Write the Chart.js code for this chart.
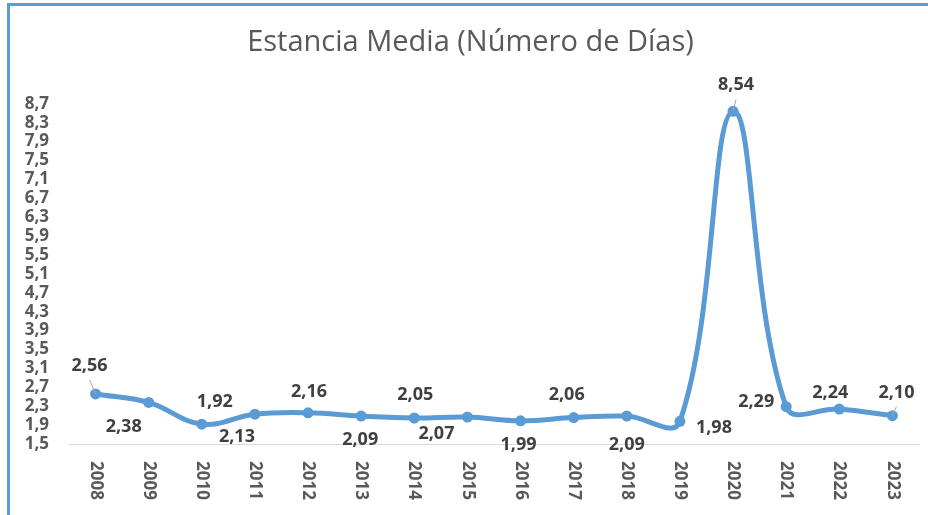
<!DOCTYPE html>
<html>
<head>
<meta charset="utf-8">
<script src="https://cdn.jsdelivr.net/npm/chart.js@4/dist/chart.umd.min.js"></script>
<style>
    body { margin: 0; background: #fff; }
    #wrap { width: 928px; height: 515px; position: relative; }
</style>
</head>
<body>
<div id="wrap"><canvas id="grafico"></canvas></div>
<script>
// Dados do gráfico
var anos = ['2008', '2009', '2010', '2011', '2012', '2013', '2014', '2015',
            '2016', '2017', '2018', '2019', '2020', '2021', '2022', '2023'];
var estanciaMedia = [2.56, 2.38, 1.92, 2.13, 2.16, 2.09, 2.05, 2.07,
                     1.99, 2.06, 2.09, 1.98, 8.54, 2.29, 2.24, 2.10];
var ejeMin = 1.5;
var ejeMax = 8.7;
var ejePaso = 0.4;

// Deslocamento dos rótulos em relação ao ponto (estilo, não dados)
var rotuloDesloc = [[-6, -28], [-25, 24], [13, -22], [-18, 23], [1, -21], [-1, 24],
                    [1, -23], [-31, 17], [-2, 24], [-7, -23], [0, 29], [34, 7],
                    [3, -26], [-30, -5], [-9, -16], [4, -23]];
var rotuloLinha = [0, 12, 15];

var azul = '#5B9BD5';
var cinza = '#595959';

function formatoComa(v) {
    return v.toFixed(2).replace('.', ',');
}

//Plugin para rótulos de dados, eixo x girado e borda
var pluginExtras = {
    id: 'extras',
    afterDatasetsDraw: function(chart) {
        var ctx = chart.ctx;
        var meta = chart.getDatasetMeta(0);
        ctx.save();
        ctx.font = 'bold 18px "Open Sans"';
        ctx.fillStyle = '#404040';
        ctx.textAlign = 'center';
        ctx.textBaseline = 'middle';
        meta.data.forEach(function(pt, i) {
            var lx = pt.x + rotuloDesloc[i][0];
            var ly = pt.y + rotuloDesloc[i][1];
            ctx.fillText(formatoComa(estanciaMedia[i]), lx, ly);
            if (rotuloLinha.indexOf(i) >= 0) {
                ctx.strokeStyle = '#A6A6A6';
                ctx.lineWidth = 1;
                ctx.beginPath();
                ctx.moveTo(lx, ly + 14);
                ctx.lineTo(pt.x, pt.y);
                ctx.stroke();
            }
        });

        // rótulos do eixo x, girados no sentido horário
        var xs = chart.scales.x;
        ctx.font = 'bold 17px "Open Sans"';
        ctx.fillStyle = cinza;
        ctx.textAlign = 'left';
        xs.ticks.forEach(function(t, i) {
            var x = xs.getPixelForTick(i);
            ctx.save();
            ctx.translate(x, xs.top + 17);
            ctx.rotate(Math.PI / 2);
            ctx.fillText(xs.getLabelForValue(t.value), 0, 0);
            ctx.restore();
        });

        // borda azul (superior e esquerda)
        ctx.fillStyle = azul;
        ctx.fillRect(7, 3, chart.width - 7, 3);
        ctx.fillRect(7, 3, 3, chart.height - 3);
        ctx.restore();
    }
};

var ctx = document.getElementById('grafico').getContext('2d');
Chart.defaults.font.family = '"Open Sans", sans-serif';
var grafico = new Chart(ctx, {
    type: 'line',
    data: {
        labels: anos,
        datasets: [{
            data: estanciaMedia,
            borderColor: azul,
            backgroundColor: azul,
            borderWidth: 5,
            pointRadius: 5.5,
            pointBackgroundColor: azul,
            pointBorderWidth: 0,
            tension: 0.4,
            fill: false
        }]
    },
    options: {
        responsive: true,
        maintainAspectRatio: false,
        animation: false,
        layout: { padding: { left: 22, right: 9, top: 0, bottom: 0 } },
        plugins: {
            legend: { display: false },
            tooltip: { enabled: false },
            title: {
                display: true,
                text: 'Estancia Media (Número de Días)',
                color: cinza,
                font: { size: 29, weight: 'normal' },
                padding: { top: 25, bottom: 44 }
            }
        },
        scales: {
            x: {
                offset: true,
                grid: { display: false, drawTicks: false },
                border: { display: true, color: '#D9D9D9', width: 1 },
                ticks: { display: false },
                afterFit: function(scale) { scale.height = 71; }
            },
            y: {
                min: ejeMin,
                max: ejeMax,
                grid: { display: false, drawTicks: false },
                border: { display: false },
                ticks: {
                    stepSize: ejePaso,
                    autoSkip: false,
                    padding: 20,
                    color: cinza,
                    font: { size: 17, weight: 'bold' },
                    callback: function(v) { return v.toFixed(1).replace('.', ','); }
                },
                afterFit: function(scale) { scale.width = 47; }
            }
        }
    },
    plugins: [pluginExtras]
});
</script>
</body>
</html>
